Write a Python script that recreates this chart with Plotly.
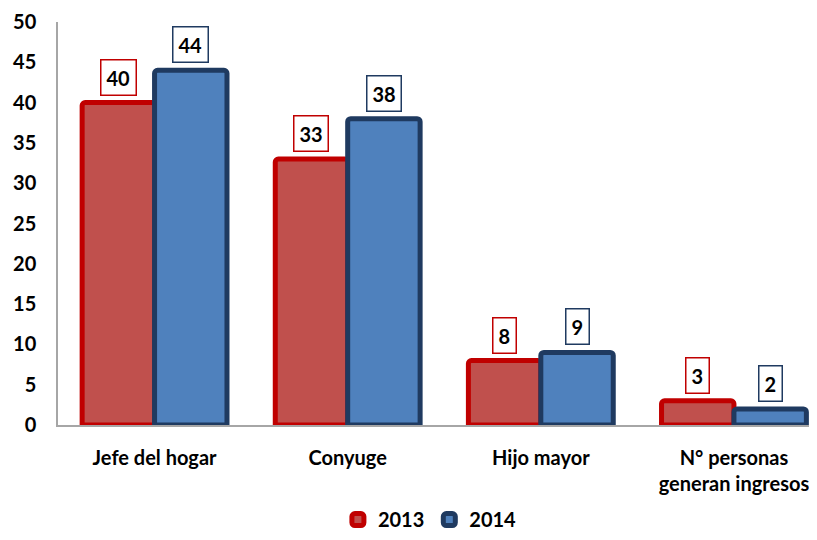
import plotly.graph_objects as go

categories = ["Jefe del hogar", "Conyuge", "Hijo mayor", "N° personas<br>generan ingresos"]
values_2013 = [40, 33, 8, 3]
values_2014 = [44, 38, 9, 2]
series_names = ["2013", "2014"]
y_ticks = [0, 5, 10, 15, 20, 25, 30, 35, 40, 45, 50]

FONT = "Lato, 'Open Sans', sans-serif"
FS = 20
fill = ["#C0504D", "#4F81BD"]
edge = ["#C00000", "#1F3A60"]

xs = list(range(len(categories)))
fig = go.Figure()
for k, vals in enumerate([values_2013, values_2014]):
    fig.add_trace(go.Bar(
        x=xs, y=vals, name=f"<b>{series_names[k]}</b>",
        marker=dict(color=fill[k], line=dict(color=edge[k], width=5), cornerradius=3),
    ))

offset = 0.1875
annotations = []
for k, vals in enumerate([values_2013, values_2014]):
    for i, v in enumerate(vals):
        annotations.append(dict(
            x=i + (-offset if k == 0 else offset), y=v, xref="x", yref="y",
            text=f"<b>{v}</b>", showarrow=False, yanchor="bottom", yshift=7,
            font=dict(family=FONT, size=FS, color="#000000"),
            bgcolor="#FFFFFF", bordercolor=edge[k], borderwidth=1.5, borderpad=5,
        ))

fig.update_layout(
    width=809, height=532,
    margin=dict(l=50, r=0, t=14, b=115, autoexpand=False),
    plot_bgcolor="#FFFFFF", paper_bgcolor="#FFFFFF",
    barmode="group", bargap=0.25, bargroupgap=0,
    font=dict(family=FONT, size=FS, color="#000000"),
    xaxis=dict(
        tickvals=xs, ticktext=[f"<b>{c}</b>" for c in categories],
        range=[-0.5, 3.43], showline=True, linecolor="#A6A6A6", linewidth=1.5,
        ticks="", showgrid=False, zeroline=False, ticklabelstandoff=14,
        tickfont=dict(family=FONT, size=FS, color="#000000"),
    ),
    yaxis=dict(
        range=[0, 50], tickvals=y_ticks, ticktext=[f"<b>{t}</b>" for t in y_ticks],
        showline=True, linecolor="#A6A6A6", linewidth=1.5,
        ticks="", showgrid=False, zeroline=False, ticklabelstandoff=16,
        tickfont=dict(family=FONT, size=FS, color="#000000"),
    ),
    legend=dict(
        orientation="h", x=0.49, xanchor="center", y=-0.283, yanchor="bottom",
        font=dict(family=FONT, size=FS, color="#000000"),
        itemwidth=30, traceorder="normal",
    ),
    annotations=annotations,
)
fig.write_html("out.html")
